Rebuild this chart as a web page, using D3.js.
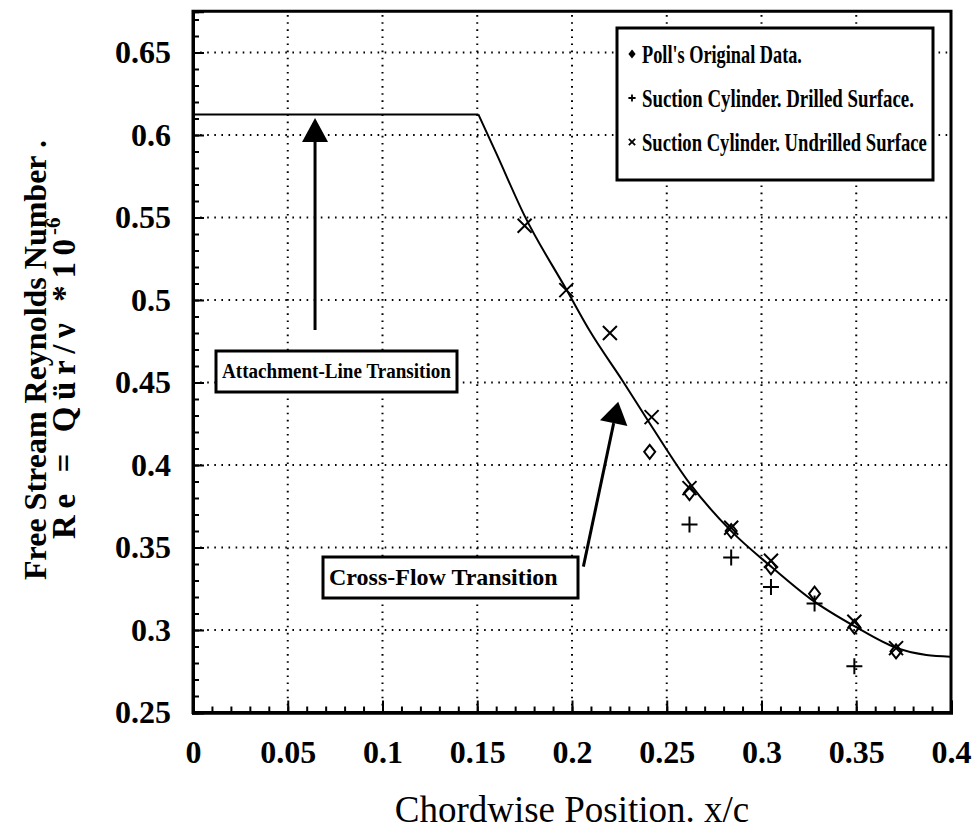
<!DOCTYPE html>
<html>
<head>
<meta charset="utf-8">
<script src="https://cdn.jsdelivr.net/npm/d3@7"></script>
<style>
  body { margin: 0; background: #fff; }
  svg { display: block; }
  text { font-family: "Liberation Serif", "DejaVu Serif", serif; fill: #000; }
</style>
</head>
<body>
<script>
// values
const xTicks = [0, 0.05, 0.1, 0.15, 0.2, 0.25, 0.3, 0.35, 0.4]
const xTickLabels = ['0', '0.05', '0.1', '0.15', '0.2', '0.25', '0.3', '0.35', '0.4']
const yTicks = [0.25, 0.3, 0.35, 0.4, 0.45, 0.5, 0.55, 0.6, 0.65]
const yTickLabels = ['0.25', '0.3', '0.35', '0.4', '0.45', '0.5', '0.55', '0.6', '0.65']

// Poll's original data (diamonds)
const pollX = [0.241, 0.262, 0.284, 0.305, 0.328, 0.349, 0.371]
const pollY = [0.408, 0.383, 0.360, 0.338, 0.322, 0.302, 0.287]
// suction cylinder, drilled surface (+)
const drilledX = [0.262, 0.284, 0.305, 0.328, 0.349]
const drilledY = [0.364, 0.344, 0.326, 0.316, 0.278]
// suction cylinder, undrilled surface (x)
const undrilledX = [0.175, 0.197, 0.220, 0.242, 0.262, 0.284, 0.305, 0.349, 0.371]
const undrilledY = [0.545, 0.506, 0.480, 0.429, 0.386, 0.362, 0.342, 0.305, 0.289]

// attachment-line limit and cross-flow curve
const attachX = [0, 0.1506]
const attachY = [0.6125, 0.6125]
const crossX = [0.1506, 0.16, 0.175, 0.1972, 0.2095, 0.227, 0.242, 0.262, 0.2835, 0.3055, 0.3257, 0.3495, 0.3715, 0.387, 0.3996]
const crossY = [0.6125, 0.589, 0.551, 0.506, 0.481, 0.4505, 0.4235, 0.389, 0.3605, 0.338, 0.319, 0.302, 0.289, 0.2848, 0.2838]

const legendLabels = ["Poll's Original Data.", 'Suction Cylinder. Drilled Surface.', 'Suction Cylinder. Undrilled Surface']

window.addEventListener('DOMContentLoaded', () => {

  const W = 977, H = 835

  let svg = d3.select('body').append('svg')
    .attr('width', W).attr('height', H)
    .style('background', '#fff')

  let x = d3.scaleLinear().domain([0, 0.4]).range([193, 951])
  let y = d3.scaleLinear().domain([0.25, 0.675]).range([712.5, 11.25])

  let zip = (xs, ys) => xs.map((v, i) => [v, ys[i]])

  // squeeze a text horizontally so it fits a given width (scan font is condensed)
  let fitText = (sel, width) => {
    let w = sel.node().getComputedTextLength()
    let k = Math.min(1, width / w)
    let tx = +sel.attr('x'), ty = +sel.attr('y')
    sel.attr('x', 0).attr('y', 0)
      .attr('transform', `translate(${tx},${ty}) scale(${k},1)`)
  }

  // dotted grid
  svg.append('g').selectAll('line')
    .data(xTicks.slice(1, -1))
    .enter().append('line')
    .attr('x1', d => x(d)).attr('x2', d => x(d))
    .attr('y1', y(0.25)).attr('y2', y(0.675))
    .attr('stroke', '#000').attr('stroke-width', 2)
    .attr('stroke-dasharray', '1.6,5.5')

  svg.append('g').selectAll('line')
    .data(yTicks.slice(1))
    .enter().append('line')
    .attr('x1', x(0)).attr('x2', x(0.4))
    .attr('y1', d => y(d)).attr('y2', d => y(d))
    .attr('stroke', '#000').attr('stroke-width', 2)
    .attr('stroke-dasharray', '1.6,5.5')

  // frame
  svg.append('rect')
    .attr('x', x(0)).attr('y', y(0.675))
    .attr('width', x(0.4) - x(0)).attr('height', y(0.25) - y(0.675))
    .attr('fill', 'none').attr('stroke', '#000').attr('stroke-width', 3)

  // axes: minor ticks then labelled majors, ticks point inward
  let yMinor = d3.range(25, 68).map(d => d / 100)
  let xMinor = d3.range(0, 41).map(d => d / 100)

  svg.append('g').attr('transform', `translate(${x(0)},0)`)
    .call(d3.axisLeft(y).tickValues(yMinor).tickFormat('').tickSize(-6))
  svg.append('g').attr('transform', `translate(0,${y(0.25)})`)
    .call(d3.axisBottom(x).tickValues(xMinor).tickFormat('').tickSize(-6))

  let yAxis = svg.append('g').attr('transform', `translate(${x(0)},0)`)
    .call(d3.axisLeft(y).tickValues(yTicks).tickFormat((d, i) => yTickLabels[i]).tickSize(-11).tickPadding(22))
  let xAxis = svg.append('g').attr('transform', `translate(0,${y(0.25)})`)
    .call(d3.axisBottom(x).tickValues(xTicks).tickFormat((d, i) => xTickLabels[i]).tickSize(-12).tickPadding(28))

  svg.selectAll('.domain').attr('stroke-width', 3)
  svg.selectAll('.tick line').attr('stroke-width', 2)
  ;[xAxis, yAxis].forEach(g => g.selectAll('text')
    .style('font-family', '"Liberation Serif", serif')
    .style('font-size', '32px').style('font-weight', 'bold').attr('fill', '#000'))

  // axis titles
  svg.append('text')
    .attr('x', 572).attr('y', 822)
    .attr('text-anchor', 'middle')
    .style('font-size', '37px')
    .text('Chordwise Position. x/c')

  svg.append('text')
    .attr('transform', 'translate(46,360) rotate(-90)')
    .attr('text-anchor', 'middle')
    .style('font-size', '32px').style('font-weight', 'bold')
    .text('Free Stream Reynolds Number .')

  let yt2 = svg.append('g').attr('transform', 'translate(75,539) rotate(-90)')
  yt2.append('text')
    .attr('x', 0).attr('y', 0)
    .attr('textLength', 300).attr('lengthAdjust', 'spacing')
    .style('font-size', '33px').style('font-weight', 'bold')
    .text('Re = Qür/ν  *10')
  yt2.append('text')
    .attr('x', 304).attr('y', -15)
    .style('font-size', '21px').style('font-weight', 'bold')
    .text('-6')

  // transition lines
  let line = d3.line().x(d => x(d[0])).y(d => y(d[1]))
  svg.append('path')
    .attr('d', line(zip(attachX, attachY)))
    .attr('fill', 'none').attr('stroke', '#000').attr('stroke-width', 2)
  svg.append('path')
    .attr('d', line.curve(d3.curveMonotoneX)(zip(crossX, crossY)))
    .attr('fill', 'none').attr('stroke', '#000').attr('stroke-width', 2)

  // markers
  const symbols = {
    diamond: 'M0,-7L5.5,0L0,7L-5.5,0Z',
    plus: 'M-8,0H8M0,-8V8',
    cross: 'M-7,-7L7,7M-7,7L7,-7'
  }
  let drawSeries = (xs, ys, sym) => {
    svg.append('g').selectAll('path')
      .data(zip(xs, ys))
      .enter().append('path')
      .attr('transform', d => `translate(${x(d[0])},${y(d[1])})`)
      .attr('d', symbols[sym])
      .attr('fill', 'none').attr('stroke', '#000').attr('stroke-width', 2)
  }
  drawSeries(pollX, pollY, 'diamond')
  drawSeries(drilledX, drilledY, 'plus')
  drawSeries(undrilledX, undrilledY, 'cross')

  // legend
  let lg = svg.append('g')
  lg.append('rect')
    .attr('x', 617).attr('y', 28).attr('width', 316).attr('height', 152)
    .attr('fill', '#fff').attr('stroke', '#000').attr('stroke-width', 3)
  const legendSyms = ['diamond', 'plus', 'cross']
  const legendLen = [160, 272, 285]
  legendLabels.forEach((lab, i) => {
    let cy = 54 + i * 44
    lg.append('path')
      .attr('transform', `translate(632,${cy}) scale(0.45)`)
      .attr('d', symbols[legendSyms[i]])
      .attr('fill', i == 0 ? '#000' : 'none').attr('stroke', '#000').attr('stroke-width', 4)
    let t = lg.append('text')
      .attr('x', 642).attr('y', cy + 9)
      .style('font-size', '25px').style('font-weight', 'bold')
      .text(lab)
    fitText(t, legendLen[i])
  })

  // annotation boxes
  let box = (bx, by, bw, bh, txt, fs) => {
    svg.append('rect')
      .attr('x', bx).attr('y', by).attr('width', bw).attr('height', bh)
      .attr('fill', '#fff').attr('stroke', '#000').attr('stroke-width', 3)
    let t = svg.append('text')
      .attr('x', bx + 6).attr('y', by + bh / 2 + fs * 0.33)
      .style('font-size', fs + 'px').style('font-weight', 'bold')
      .text(txt)
    fitText(t, bw - 12)
  }
  box(216, 351, 241, 41, 'Attachment-Line Transition', 21)
  box(323, 557, 255, 41, 'Cross-Flow Transition', 24)

  // arrows (data units)
  let arrow = (x0, y0, x1, y1, headLen, headHalf) => {
    let ax = x(x0), ay = y(y0), bx = x(x1), by = y(y1)
    let dx = bx - ax, dy = by - ay, L = Math.hypot(dx, dy)
    let ux = dx / L, uy = dy / L
    let baseX = bx - ux * headLen, baseY = by - uy * headLen
    svg.append('line')
      .attr('x1', ax).attr('y1', ay).attr('x2', baseX).attr('y2', baseY)
      .attr('stroke', '#000').attr('stroke-width', 3)
    svg.append('path')
      .attr('d', `M${bx},${by}L${baseX - uy * headHalf},${baseY + ux * headHalf}L${baseX + uy * headHalf},${baseY - ux * headHalf}Z`)
      .attr('fill', '#000')
  }
  arrow(0.0644, 0.4818, 0.0644, 0.6103, 24, 13)
  arrow(0.206, 0.3384, 0.2244, 0.4384, 22, 14)

})
</script>
</body>
</html>
